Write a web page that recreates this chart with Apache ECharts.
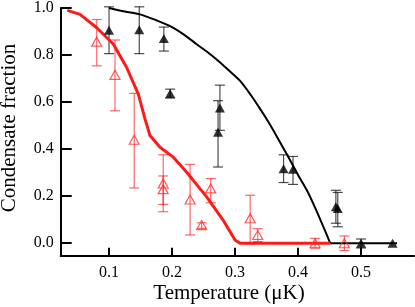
<!DOCTYPE html>
<html>
<head>
<meta charset="utf-8">
<script src="https://cdn.jsdelivr.net/npm/echarts@6/dist/echarts.min.js"></script>
<style>html,body{margin:0;padding:0;background:#fff}#c{width:415px;height:307px}</style>
</head>
<body>
<div id="c"></div>
<script>
// ---- data ----
const xTicks = [0.1, 0.2, 0.3, 0.4, 0.5];
const yTicks = [0.0, 0.2, 0.4, 0.6, 0.8, 1.0];

const blackT  = [0.100, 0.148, 0.187, 0.197, 0.276, 0.273, 0.377, 0.392, 0.460, 0.463, 0.500, 0.550];
const blackF  = [0.905, 0.908, 0.870, 0.637, 0.575, 0.472, 0.317, 0.314, 0.155, 0.148, 0.000, 0.000];
const blackLo = [0.806, 0.806, 0.817, 0.617, 0.480, 0.324, 0.258, 0.250, 0.085, 0.070, -0.020, null];
const blackHi = [1.005, 1.005, 0.919, 0.655, 0.672, 0.606, 0.376, 0.369, 0.225, 0.216, 0.018, null];

const redT  = [0.0805, 0.1095, 0.140, 0.186, 0.186, 0.2286, 0.247, 0.2614, 0.324, 0.336, 0.427, 0.4735];
const redF  = [0.857, 0.716, 0.440, 0.254, 0.230, 0.186, 0.077, 0.233, 0.106, 0.035, 0.000, 0.000];
const redLo = [0.754, 0.563, 0.235, 0.165, 0.134, 0.035, 0.063, 0.172, -0.003, 0.007, -0.021, -0.031];
const redHi = [0.951, 0.864, 0.637, 0.376, 0.286, 0.335, 0.087, 0.275, 0.204, 0.062, 0.021, 0.031];

const blackCurveT = [0.100, 0.125, 0.149, 0.175, 0.197, 0.220, 0.239, 0.255, 0.2735, 0.290, 0.308, 0.325, 0.340, 0.353, 0.366, 0.387, 0.400, 0.414, 0.425, 0.437, 0.451, 0.557];
const blackCurveF = [1.000, 0.985, 0.973, 0.948, 0.923, 0.885, 0.846, 0.815, 0.775, 0.735, 0.690, 0.630, 0.570, 0.515, 0.455, 0.355, 0.290, 0.225, 0.163, 0.090, 0.000, 0.000];

const redCurveT = [0.0338, 0.054, 0.0805, 0.107, 0.128, 0.1465, 0.157, 0.165, 0.181, 0.202, 0.223, 0.244, 0.255, 0.281, 0.300, 0.308, 0.451];
const redCurveF = [0.990, 0.973, 0.916, 0.846, 0.747, 0.634, 0.530, 0.458, 0.408, 0.366, 0.303, 0.233, 0.197, 0.0985, 0.014, 0.000, 0.000];

// ---- chart ----
const FONT = 'Liberation Serif';
const zip = (a, b) => a.map((v, i) => [v, b[i]]);
const errData = (t, lo, hi) => t.map((v, i) => [v, lo[i], hi[i]]).filter(d => d[1] !== null);
const blackCurve = zip(blackCurveT, blackCurveF);
const nB = blackCurve.length;

function errRender(color) {
  return function (params, api) {
    const x = api.value(0);
    const p1 = api.coord([x, api.value(1)]);
    const p2 = api.coord([x, api.value(2)]);
    const hw = 5;
    const st = { stroke: color, lineWidth: 1.2 };
    return {
      type: 'group',
      children: [
        { type: 'line', shape: { x1: p1[0], y1: p1[1], x2: p2[0], y2: p2[1] }, style: st },
        { type: 'line', shape: { x1: p1[0] - hw, y1: p1[1], x2: p1[0] + hw, y2: p1[1] }, style: st },
        { type: 'line', shape: { x1: p2[0] - hw, y1: p2[1], x2: p2[0] + hw, y2: p2[1] }, style: st }
      ]
    };
  };
}

const chart = echarts.init(document.getElementById('c'), null, { renderer: 'canvas' });
chart.setOption({
  animation: false,
  backgroundColor: '#fff',
  grid: { left: 60.7, top: 6.7, width: 353.3, height: 249, containLabel: false },
  xAxis: {
    type: 'value', min: 0.0233, max: 0.584,
    axisLine: { onZero: false, lineStyle: { color: '#000', width: 2 } },
    axisTick: { inside: true, length: 8, lineStyle: { color: '#000', width: 2 }, customValues: xTicks },
    axisLabel: { customValues: xTicks, formatter: v => v.toFixed(1), color: '#000', fontFamily: FONT, fontSize: 16, margin: 9 },
    splitLine: { show: false }
  },
  yAxis: {
    type: 'value', min: -0.053, max: 1.0,
    axisLine: { show: true, onZero: false, lineStyle: { color: '#000', width: 2 } },
    axisTick: { show: true, inside: true, length: 11, lineStyle: { color: '#000', width: 2 }, customValues: yTicks },
    axisLabel: { customValues: yTicks, formatter: v => v.toFixed(1), color: '#000', fontFamily: FONT, fontSize: 16, margin: 7 },
    splitLine: { show: false }
  },
  graphic: [
    { type: 'text', x: 229, y: 293, style: { text: 'Temperature (μK)', font: '21px "Liberation Serif"', fill: '#000', align: 'center', verticalAlign: 'middle' } },
    { type: 'text', x: 9, y: 128, rotation: Math.PI / 2, style: { text: 'Condensate fraction', font: '21px "Liberation Serif"', fill: '#000', align: 'center', verticalAlign: 'middle' } }
  ],
  series: [
    { type: 'custom', renderItem: errRender('rgba(0,0,0,0.7)'), data: errData(blackT, blackLo, blackHi), z: 2, silent: true },
    { type: 'custom', renderItem: errRender('rgba(255,0,0,0.6)'), data: errData(redT, redLo, redHi), z: 2, silent: true },
    { type: 'line', data: blackCurve.slice(0, nB - 1), showSymbol: false, symbol: 'none', smooth: 0.3, lineStyle: { color: '#000', width: 2 }, z: 3 },
    { type: 'line', data: blackCurve.slice(nB - 2), showSymbol: false, symbol: 'none', lineStyle: { color: '#000', width: 2 }, z: 3 },
    { type: 'line', data: zip(redCurveT, redCurveF), showSymbol: false, symbol: 'none', lineStyle: { color: '#ff1a1a', width: 3 }, z: 3 },
    { type: 'scatter', data: zip(blackT, blackF), symbol: 'triangle', symbolSize: [10, 9], itemStyle: { color: '#000' }, z: 4 },
    { type: 'scatter', data: zip(redT, redF), symbol: 'triangle', symbolSize: [10, 9], itemStyle: { color: 'rgba(255,255,255,0)', borderColor: '#ff3030', borderWidth: 1.2 }, z: 4 }
  ]
});
</script>
</body>
</html>
